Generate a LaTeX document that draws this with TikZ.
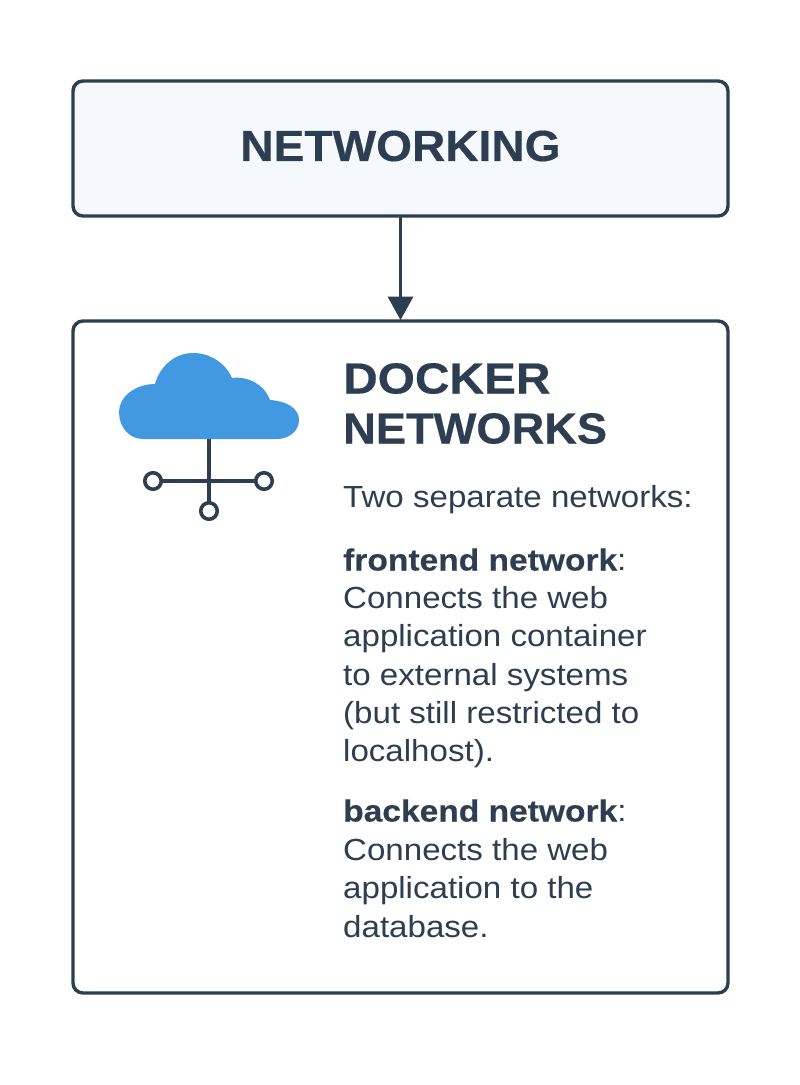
\documentclass[tikz,border=0pt]{standalone}
\usepackage{fontspec}
\setmainfont{Liberation Sans}
\newfontfamily\bodyface[FakeStretch=1.085]{Liberation Sans}
\newfontfamily\boldbody[FakeStretch=1.1,FakeBold=0.3]{Liberation Sans Bold}
\newfontfamily\titleface[FakeStretch=1.06,FakeBold=0.4]{Liberation Sans Bold}
\newfontfamily\dockerface[FakeStretch=1.1,FakeBold=0.4]{Liberation Sans Bold}
\newfontfamily\netface[FakeStretch=1.04,FakeBold=0.4]{Liberation Sans Bold}
\definecolor{ink}{HTML}{2C3E50}
\definecolor{cloud}{HTML}{4299E1}
\definecolor{pale}{HTML}{F5F8FD}
\newcommand{\T}[3]{\node[anchor=base west,inner sep=0pt,text=ink,font=#1] at (343,-#2) {#3};}
\newcommand{\B}[2]{\T{\bodyface\fontsize{30.5}{30}\selectfont}{#1}{#2}}
\newcommand{\Bd}[1]{{\boldbody #1}}
\tikzset{x=1pt,y=1pt,
 panel/.style={draw=ink,line width=3.4pt,rounded corners=10pt,inner sep=0pt,outer sep=0pt},
 linkline/.style={draw=ink,line width=3.7pt},
 dot/.style={circle,draw=ink,line width=3.6pt,fill=white,minimum size=16.5pt,inner sep=0pt,outer sep=0pt}}
\begin{document}
\begin{tikzpicture}
\useasboundingbox (0,0) rectangle (800,-1085);
\fill[white] (0,0) rectangle (800,-1085);
\node[panel,fill=pale,minimum width=655pt,minimum height=135pt] (top) at (400.5,-148.5) {};
\node[panel,fill=white,minimum width=655pt,minimum height=672pt] (bot) at (400.5,-657) {};
\node[text=ink,font=\titleface\fontsize{43.5}{42}\selectfont] (title) at (400.5,-146) {NETWORKING};
\coordinate (tip) at (400.5,-320);
\draw[linkline] (top.south) -- (400.5,-300);
\fill[ink] (tip) -- (387.5,-296.5) -- (413.5,-296.5) -- cycle;
\node[dot] (l) at (153,-481) {};
\node[dot] (r) at (264,-481) {};
\node[dot] (b) at (209,-511) {};
\coordinate (stem) at (209,-438);
\draw[linkline,line width=3.4pt] (l) -- (r);
\draw[linkline,line width=3.4pt] (stem) -- (b);
\fill[cloud] (143,-439) .. controls (129,-439) and (119,-427) .. (119,-412)
 .. controls (119,-397) and (135,-384) .. (155,-384)
 .. controls (160,-366) and (175,-353) .. (193,-353)
 .. controls (211,-353) and (226,-364) .. (232,-378)
 .. controls (248,-376) and (264,-384) .. (270,-400)
 .. controls (286,-401) and (299,-408) .. (299,-420)
 .. controls (299,-431) and (289,-439) .. (277,-439) -- cycle;
\T{\dockerface\fontsize{43.5}{42}\selectfont}{393.5}{DOCKER}
\T{\netface\fontsize{43.5}{42}\selectfont}{443.5}{NETWORKS}
\B{507.5}{Two separate networks:}
\B{570.5}{\Bd{frontend network}:}
\B{608.5}{Connects the web}
\B{646.5}{application container}
\B{685.5}{to external systems}
\B{723.5}{(but still restricted to}
\B{761.5}{localhost).}
\B{821.5}{\Bd{backend network}:}
\B{860.5}{Connects the web}
\B{898.5}{application to the}
\B{937.5}{database.}
\end{tikzpicture}
\end{document}
